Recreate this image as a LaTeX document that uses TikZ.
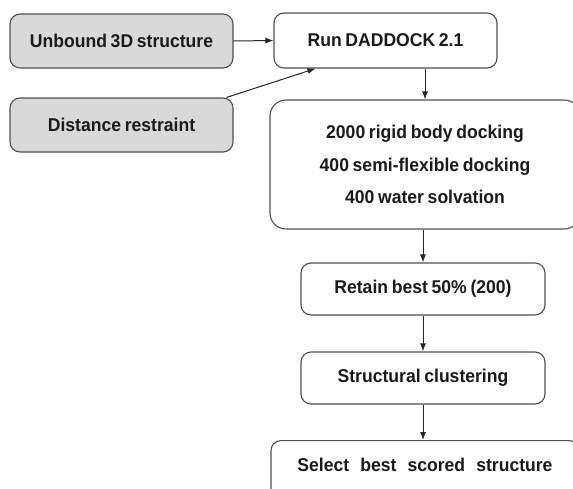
\documentclass[tikz,border=0pt]{standalone}
\usepackage{fontspec}
\setmainfont[FakeStretch=0.95]{Liberation Sans}
\usetikzlibrary{arrows.meta}
\definecolor{edge}{HTML}{505050}
\definecolor{grayfill}{HTML}{D9D9D9}
\definecolor{txt}{HTML}{1A1A1A}
\newcommand{\boxfont}{\fontsize{18.5}{32.5}\selectfont\bfseries\spaceskip=0.2em\relax}
\tikzset{
  box/.style={draw=edge, line width=1.1pt, rounded corners=10pt, fill=white,
    text=txt, font=\boxfont, align=center, inner sep=0pt},
  inbox/.style={box, fill=grayfill},
  arr/.style={draw=black!85, line width=1pt, -{Latex[length=8pt,width=6pt]}}
}
\begin{document}
\begin{tikzpicture}[x=1pt,y=-1pt]
\useasboundingbox (0,0) rectangle (573,488);
\clip (0,0) rectangle (573,488);
\node[inbox, minimum width=223pt, minimum height=54pt] (unb) at (121.5,41) {Unbound 3D structure};
\node[inbox, minimum width=223pt, minimum height=54pt] (dist) at (121.5,125) {Distance restraint};
\node[box, minimum width=223pt, minimum height=55pt] (run) at (385.5,40.5) {Run DADDOCK 2.1};
\node[box, rounded corners=16pt, minimum width=310pt, minimum height=129pt] (big) at (425,164.5)
  {2000 rigid body docking\\400 semi-flexible docking\\400 water solvation};
\node[box, minimum width=244pt, minimum height=52pt] (ret) at (423,289) {Retain best 50\% (200)};
\node[box, minimum width=244pt, minimum height=52pt] (clu) at (423,378) {Structural clustering};
\node[box, minimum width=308pt, minimum height=60pt, anchor=north] (sel) at (425,440) {\raisebox{12pt}{\spaceskip=0.6em\relax Select best scored structure}};
\draw[arr] (unb.east) -- (run.west);
\draw[arr] ([xshift=-7pt]dist.north east) -- ([xshift=-70pt]run.south);
\draw[arr] (run.south -| big.north) -- (big.north);
\draw[arr] (big.south -| ret.north) -- (ret.north);
\draw[arr] (ret.south) -- (clu.north);
\draw[arr] (clu.south) -- (clu.south |- sel.north);
\end{tikzpicture}
\end{document}
